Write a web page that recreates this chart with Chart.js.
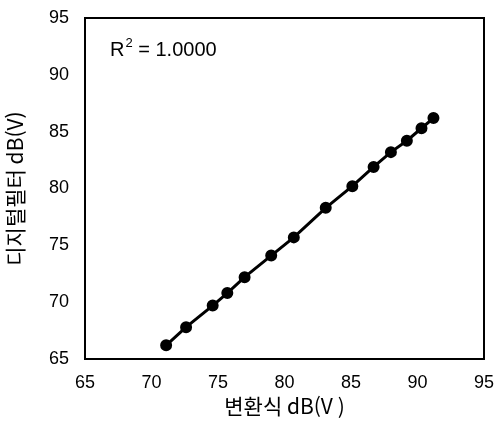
<!DOCTYPE html>
<html lang="ko">
<head>
    <meta charset="UTF-8">
    <title>변환식 vs 디지털필터</title>
    <script src="https://cdn.jsdelivr.net/npm/chart.js"></script>
    <style>
        body {
            margin: 0;
            background-color: white;
        }
        .chart-container {
            width: 500px;
            height: 439px;
        }
    </style>
</head>
<body>
    <div class="chart-container">
        <canvas id="dbChart"></canvas>
    </div>

    <script>
        // 변환식으로 구한 값 (x) 과 디지털필터 측정값 (y), 단위 dB(V)
        const convertedDb = [71.1, 72.6, 74.6, 75.7, 77.0, 79.0, 80.7, 83.1, 85.1, 86.7, 88.0, 89.2, 90.3, 91.2];
        const filterDb = [66.2, 67.8, 69.7, 70.8, 72.2, 74.1, 75.7, 78.3, 80.2, 81.9, 83.2, 84.2, 85.3, 86.2];
        const axisTicks = [65, 70, 75, 80, 85, 90, 95];
        const xTitle = '변환식 dB(V )';
        const yTitle = '디지털필터 dB(V)';
        const r2Value = '1.0000';

        const tickFont = { family: "'Liberation Sans', Arial, sans-serif", size: 18 };
        const titleFont = { family: "'Noto Sans CJK KR', sans-serif", size: 21 };

        // 축 자체 여백은 없애고 layout.padding 만 쓴다
        function noScalePadding(s) {
            s.paddingTop = 0;
            s.paddingBottom = 0;
            s.paddingLeft = 0;
            s.paddingRight = 0;
        }

        // 테두리 상자와 R² 표시
        const frameAndR2 = {
            id: 'frameAndR2',
            afterDatasetsDraw(chart) {
                const { ctx, chartArea } = chart;
                ctx.save();
                ctx.strokeStyle = '#000';
                ctx.lineWidth = 2;
                ctx.strokeRect(chartArea.left, chartArea.top,
                    chartArea.right - chartArea.left, chartArea.bottom - chartArea.top);

                ctx.fillStyle = '#000';
                ctx.textBaseline = 'alphabetic';
                let x = chartArea.left + 25;
                const y = chartArea.top + 38;
                ctx.font = "20px 'Liberation Sans', Arial, sans-serif";
                ctx.fillText('R', x, y);
                x += ctx.measureText('R').width + 1;
                ctx.font = "13px 'Liberation Sans', Arial, sans-serif";
                ctx.fillText('2', x, y - 9);
                x += ctx.measureText('2').width;
                ctx.font = "20px 'Liberation Sans', Arial, sans-serif";
                ctx.fillText(' = ' + r2Value, x, y);
                ctx.restore();
            }
        };

        const ctx = document.getElementById('dbChart').getContext('2d');
        new Chart(ctx, {
            type: 'scatter',
            data: {
                datasets: [{
                    data: convertedDb.map((v, i) => ({ x: v, y: filterDb[i] })),
                    showLine: true,
                    borderColor: '#000',
                    backgroundColor: '#000',
                    borderWidth: 3,
                    pointRadius: 4.5,
                    pointHoverRadius: 4.5
                }]
            },
            options: {
                responsive: true,
                maintainAspectRatio: false,
                animation: false,
                layout: { autoPadding: false, padding: { left: 0, top: 18, right: 16, bottom: 0 } },
                plugins: {
                    legend: { display: false },
                    tooltip: { enabled: false }
                },
                scales: {
                    x: {
                        type: 'linear',
                        min: 65,
                        max: 95,
                        afterBuildTicks: s => { s.ticks = axisTicks.map(v => ({ value: v })); },
                        afterFit: s => { s.height = 80; noScalePadding(s); },
                        grid: { display: false, drawTicks: false },
                        border: { display: false },
                        ticks: { color: '#000', font: tickFont, padding: 13 },
                        title: {
                            display: true,
                            text: xTitle,
                            color: '#000',
                            font: titleFont,
                            padding: { top: 20, bottom: 20 }
                        }
                    },
                    y: {
                        type: 'linear',
                        min: 65,
                        max: 95,
                        afterBuildTicks: s => { s.ticks = axisTicks.map(v => ({ value: v })); },
                        afterFit: s => { s.width = 85; noScalePadding(s); },
                        grid: { display: false, drawTicks: false },
                        border: { display: false },
                        ticks: { color: '#000', font: tickFont, padding: 16 },
                        title: {
                            display: true,
                            text: yTitle,
                            color: '#000',
                            font: titleFont,
                            padding: { top: 2, bottom: 2 }
                        }
                    }
                }
            },
            plugins: [frameAndR2]
        });
    </script>
</body>
</html>
